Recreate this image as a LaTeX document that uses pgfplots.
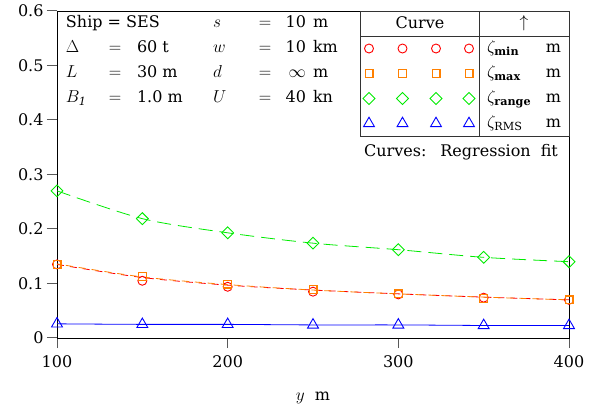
\documentclass[border=0pt]{standalone}
\usepackage{fontspec}
\setmainfont{DejaVu Serif}
\usepackage{pgfplots}
\pgfplotsset{compat=1.18}
\definecolor{cred}{RGB}{255,0,0}
\definecolor{corange}{RGB}{255,128,0}
\definecolor{cgreen}{RGB}{0,235,0}
\definecolor{cblue}{RGB}{0,0,255}
\pgfplotsset{myleg/.style={legend image code/.code={%
  \draw[##1, only marks, mark repeat=1] plot coordinates {(0pt,0pt)(33.5pt,0pt)(67pt,0pt)(100pt,0pt)};
  \path[draw=none, fill=none] (-9pt,-12.5pt) rectangle (110pt,12.5pt);}}}
\begin{document}
\begin{tikzpicture}[font=\fontsize{16}{19}\selectfont]
\begin{axis}[
  scale only axis, width=512pt, height=327pt,
  at={(0,0)}, anchor=south west,
  xmin=100, xmax=400, ymin=0, ymax=0.6,
  xtick={100,200,300,400}, ytick={0,0.1,0.2,0.3,0.4,0.5,0.6},
  tick align=outside, tick pos=left, major tick length=10pt,
  every tick/.style={black!65, line width=1pt},
  axis line style={line width=0.9pt},
  /pgf/number format/assume math mode=true,
  yticklabel style={/pgf/number format/fixed,/pgf/number format/precision=1},
  xticklabel style={yshift=-4pt},
  xlabel={$y$\ \ m},
  xlabel style={at={(rel axis cs:0.5,0)}, anchor=base, yshift=-62pt},
  legend style={at={(0.5918,0.9235)}, anchor=north west, draw=none, fill=none,
    inner sep=0pt, outer sep=0pt, row sep=0pt, column sep=0pt,
    nodes={inner sep=0pt, outer sep=0pt}},
]
% regression-fit curves
\addplot[cgreen, line width=0.8pt, dash pattern=on 14pt off 7pt, smooth, forget plot] coordinates {(100,0.270)(150,0.219)(200,0.193)(250,0.174)(300,0.162)(350,0.148)(400,0.140)};
\addplot[cred, line width=0.8pt, dash pattern=on 7pt off 6pt, smooth, forget plot] coordinates {(100,0.135)(150,0.111)(200,0.097)(250,0.088)(300,0.081)(350,0.075)(400,0.070)};
\addplot[corange, line width=0.8pt, dash pattern=on 7pt off 6pt, dash phase=4pt, smooth, forget plot] coordinates {(100,0.136)(150,0.112)(200,0.098)(250,0.088)(300,0.081)(350,0.075)(400,0.070)};
\addplot[cblue, line width=0.8pt, smooth, forget plot] coordinates {(100,0.026)(150,0.025)(200,0.025)(250,0.024)(300,0.024)(350,0.023)(400,0.023)};
% data points
\addplot[only marks, cred, mark=o, mark size=4.5pt, mark options={line width=0.9pt}, myleg] coordinates {(100,0.135)(150,0.105)(200,0.094)(250,0.085)(300,0.080)(350,0.074)(400,0.070)};
\addlegendentry{\mbox{}}
\addplot[only marks, corange, mark=square, mark size=3.9pt, mark options={line width=1.2pt, draw=corange}, myleg] coordinates {(100,0.135)(150,0.113)(200,0.099)(250,0.089)(300,0.081)(350,0.073)(400,0.070)};
\addlegendentry{\mbox{}}
\addplot[only marks, cgreen, mark=square, mark size=4.2pt, mark options={line width=0.9pt, rotate=45}, myleg] coordinates {(100,0.270)(150,0.219)(200,0.193)(250,0.174)(300,0.162)(350,0.148)(400,0.140)};
\addlegendentry{\mbox{}}
\addplot[only marks, cblue, mark=triangle, mark size=6.3pt, mark options={line width=0.9pt}, myleg] coordinates {(100,0.026)(150,0.025)(200,0.025)(250,0.024)(300,0.024)(350,0.023)(400,0.023)};
\addlegendentry{\mbox{}}
\end{axis}
\begin{scope}[x=1pt, y=-1pt, shift={(-57pt,338pt)}, every node/.style={inner sep=0pt, outer sep=0pt}]
  % legend table frame
  \draw[line width=0.9pt, black!80] (360,11) rectangle (569,136);
  \draw[line width=0.9pt, black!80] (360,36) -- (569,36);
  \draw[line width=0.9pt, black!80] (479,11) -- (479,136);
  \node[anchor=base] at (420,29) {Curve};
  \node at (524,23) {$\uparrow$};
  \node[anchor=base west] at (487,53) {$\zeta_{\mathbf{min}}$};
  \node[anchor=base west] at (487,78) {$\zeta_{\mathbf{max}}$};
  \node[anchor=base west] at (487,103) {$\zeta_{\mathbf{range}}$};
  \node[anchor=base west] at (487,128) {$\zeta_{\mathrm{RMS}}$};
  \node[anchor=base east] at (561,53) {m};
  \node[anchor=base east] at (561,78) {m};
  \node[anchor=base east] at (561,103) {m};
  \node[anchor=base east] at (561,128) {m};
  \node[anchor=base] at (461,157) {Curves:\hspace{14pt}Regression\hspace{10pt}fit};
  % parameter block
  \node[anchor=base west] at (66,28) {Ship = SES};
  \node[anchor=base west] at (66,53) {$\Delta$};
  \node[anchor=base west] at (66,78) {$L$};
  \node[anchor=base west] at (66,103) {$B_{\mathit{1}}$};
  \node[anchor=base] at (115,53) {$=$};
  \node[anchor=base] at (115,78) {$=$};
  \node[anchor=base] at (115,103) {$=$};
  \node[anchor=base west] at (137,53) {60 t};
  \node[anchor=base west] at (137,78) {30 m};
  \node[anchor=base west] at (137,103) {1.0 m};
  \node[anchor=base west] at (213,28) {$s$};
  \node[anchor=base west] at (213,53) {$w$};
  \node[anchor=base west] at (213,78) {$d$};
  \node[anchor=base west] at (213,103) {$U$};
  \node[anchor=base] at (265,28) {$=$};
  \node[anchor=base] at (265,53) {$=$};
  \node[anchor=base] at (265,78) {$=$};
  \node[anchor=base] at (265,103) {$=$};
  \node[anchor=base east] at (306,28) {10};
  \node[anchor=base east] at (306,53) {10};
  \node[anchor=base east] at (306,78) {$\infty$};
  \node[anchor=base east] at (306,103) {40};
  \node[anchor=base west] at (313,28) {m};
  \node[anchor=base west] at (313,53) {km};
  \node[anchor=base west] at (313,78) {m};
  \node[anchor=base west] at (313,103) {kn};
  \pgfresetboundingbox
  \path[use as bounding box] (0,0) rectangle (596,414);
\end{scope}
\end{tikzpicture}
\end{document}
